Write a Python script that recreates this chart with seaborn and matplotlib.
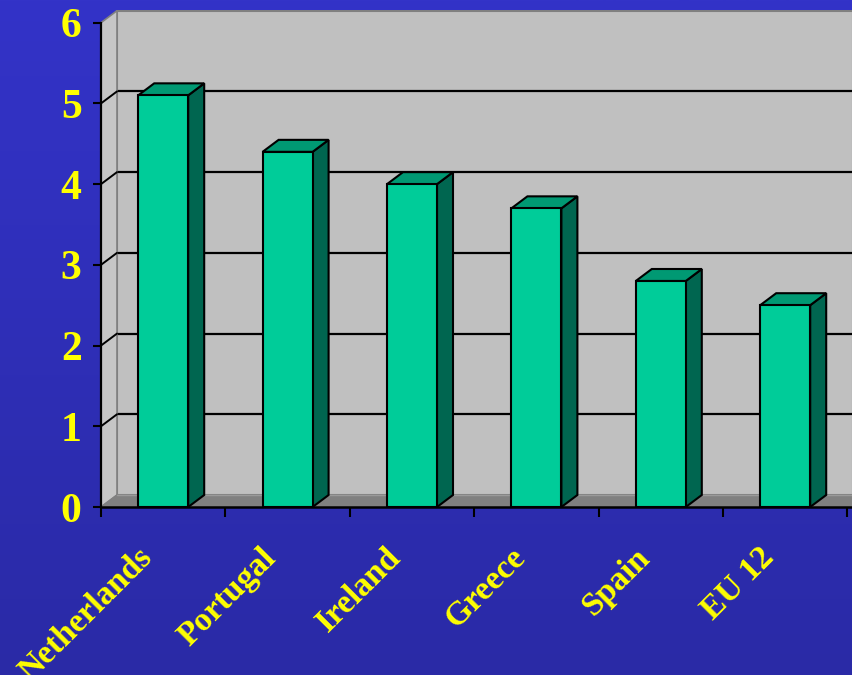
import numpy as np
import matplotlib
matplotlib.use("Agg")
import matplotlib.pyplot as plt
from matplotlib.patches import Polygon
from matplotlib.transforms import ScaledTranslation
import seaborn as sns

countries = ["Netherlands", "Portugal", "Ireland", "Greece", "Spain", "EU 12"]
values = [5.1, 4.4, 4.0, 3.7, 2.8, 2.5]
y_ticks = [0, 1, 2, 3, 4, 5, 6]

FRONT = "#00CC99"
SIDE = "#006650"
TOP = "#009973"
WALL = "#C0C0C0"
FLOOR = "#808080"
YELLOW = "#FFFF00"

sns.set_theme(style="white")
plt.rcParams["font.family"] = ["Liberation Serif", "DejaVu Serif"]

W, H = 853, 675
fig = plt.figure(figsize=(W / 100, H / 100), dpi=100)

# blue gradient backdrop
bg = fig.add_axes([0, 0, 1, 1], zorder=-10)
grad = np.linspace(0, 1, 256)[:, None]
top_c = np.array([0x33, 0x33, 0xC8]) / 255
bot_c = np.array([0x2A, 0x2A, 0xA6]) / 255
img = top_c[None, None, :] * (1 - grad[:, :, None]) + bot_c[None, None, :] * grad[:, :, None]
bg.imshow(img, aspect="auto", extent=[0, 1, 0, 1])
bg.set_axis_off()

# plot area in pixel geometry
x0_px, x1_px = 101, 853
y0_px, ytop_px = 507, 10
cat_px = 124.4
unit_px = (507 - 22.7) / 6
ax = fig.add_axes([x0_px / W, (H - y0_px) / H, (x1_px - x0_px) / W, (y0_px - ytop_px) / H])
ax.set_facecolor("none")
xmin = -0.5
xmax = xmin + (x1_px - x0_px) / cat_px
ymax = (y0_px - ytop_px) / unit_px
ddx = 16 / cat_px
ddy = 12 / unit_px

sns.barplot(x=countries, y=values, color=FRONT, saturation=1, width=50 / cat_px,
            edgecolor="black", linewidth=1.5, ax=ax, zorder=5)

ax.set_xlim(xmin, xmax)
ax.set_ylim(0, ymax)

# back wall, side wall and floor
ax.add_patch(Polygon([(xmin + ddx, ddy), (xmax, ddy), (xmax, 6 + ddy), (xmin + ddx, 6 + ddy)],
                     closed=True, facecolor=WALL, edgecolor=FLOOR, linewidth=1.5, zorder=0.5))
for v in y_ticks[1:-1]:
    ax.plot([xmin + ddx, xmax], [v + ddy, v + ddy], color="black", lw=1.6, zorder=0.8)
ax.add_patch(Polygon([(xmin, 0), (xmin + ddx, ddy), (xmin + ddx, 6 + ddy), (xmin, 6)],
                     closed=True, facecolor="#C6C6C6", edgecolor=FLOOR, linewidth=1.2, zorder=0.9))
for v in y_ticks[1:-1]:
    ax.plot([xmin, xmin + ddx], [v, v + ddy], color="black", lw=1.4, zorder=1.0)
ax.add_patch(Polygon([(xmin, 0), (xmin + ddx, ddy), (xmax, ddy), (xmax, 0)],
                     closed=True, facecolor=FLOOR, edgecolor=FLOOR, linewidth=1, zorder=1.1))
ax.plot([xmin + ddx, xmax], [ddy, ddy], color="#9A9A9A", lw=1, zorder=1.2)

# side and top faces of each column
for bar in list(ax.containers[0]):
    bx, bw, bh = bar.get_x(), bar.get_width(), bar.get_height()
    ax.add_patch(Polygon([(bx + bw, 0), (bx + bw + ddx, ddy), (bx + bw + ddx, bh + ddy), (bx + bw, bh)],
                         closed=True, facecolor=SIDE, edgecolor="black", linewidth=1.5, zorder=4))
    ax.add_patch(Polygon([(bx, bh), (bx + ddx, bh + ddy), (bx + bw + ddx, bh + ddy), (bx + bw, bh)],
                         closed=True, facecolor=TOP, edgecolor="black", linewidth=1.5, zorder=4))
    bar.set_zorder(5)

# axes lines and ticks
for s in ["top", "right"]:
    ax.spines[s].set_visible(False)
ax.spines["left"].set_bounds(0, 6)
ax.spines["left"].set_color("black")
ax.spines["left"].set_linewidth(1.6)
ax.spines["bottom"].set_color("black")
ax.spines["bottom"].set_linewidth(1.8)
ax.spines["left"].set_zorder(6)
ax.spines["bottom"].set_zorder(6)

ax.set_yticks(y_ticks)
ax.set_yticklabels([str(t) for t in y_ticks])
ax.tick_params(axis="y", direction="out", length=6, width=1.5, color="black", pad=8,
               labelsize=30, labelcolor=YELLOW, left=True)
for lab in ax.get_yticklabels():
    lab.set_fontweight("bold")

ax.set_xticks(np.arange(len(countries)))
ax.set_xticklabels(countries)
ax.set_xticks(np.arange(len(countries) + 1) - 0.5, minor=True)
ax.tick_params(axis="x", which="major", length=0, pad=33, labelsize=24, labelcolor=YELLOW)
ax.tick_params(axis="x", which="minor", direction="out", length=7, width=1.5, color="black", bottom=True)
for lab in ax.get_xticklabels():
    lab.set_fontweight("bold")
    lab.set_rotation(45)
    lab.set_ha("right")
    lab.set_va("center")
    lab.set_rotation_mode("anchor")
    lab.set_transform(lab.get_transform() + ScaledTranslation(-16 / 100, 0, fig.dpi_scale_trans))

ax.set_xlabel("")
ax.set_ylabel("")

fig.savefig("out.png", dpi=100)
